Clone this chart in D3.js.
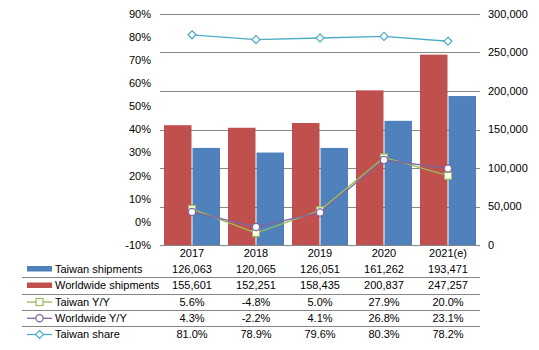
<!DOCTYPE html>
<html><head><meta charset="utf-8">
<script src="https://cdn.jsdelivr.net/npm/d3@7"></script>
<style>body{margin:0;background:#fff}svg{display:block}text{font-family:"Liberation Sans",Arial,sans-serif;font-size:11px;fill:#000}</style>
</head><body>
<script>
const categories = ["2017","2018","2019","2020","2021(e)"];
const taiwanShipments = [126063,120065,126051,161262,193471];
const worldwideShipments = [155601,152251,158435,200837,247257];
const taiwanYY = [5.6,-4.8,5.0,27.9,20.0];
const worldwideYY = [4.3,-2.2,4.1,26.8,23.1];
const taiwanShare = [81.0,78.9,79.6,80.3,78.2];
const leftTicks = [-10,0,10,20,30,40,50,60,70,80,90];
const rightTicks = [0,50000,100000,150000,200000,250000,300000];

const W=539,H=350;
const svg=d3.select("body").append("svg").attr("width",W).attr("height",H);
const x0=160,x1=480,yTop=14,yBot=245;
const x=d3.scaleBand().domain(categories).range([x0,x1]);
const yL=d3.scaleLinear().domain([-10,90]).range([yBot,yTop]);
const yR=d3.scaleLinear().domain([0,300000]).range([yBot,yTop]);
const blue="#4F81BD",red="#C0504D",green="#9BBB59",purple="#8064A2",cyan="#4BACC6";
const cx=c=>x(c)+x.bandwidth()/2;

// gridlines
svg.append("g").selectAll("line").data(rightTicks).join("line")
  .attr("x1",x0).attr("x2",x1).attr("y1",d=>Math.round(yR(d))+0.5).attr("y2",d=>Math.round(yR(d))+0.5)
  .attr("stroke","#868686").attr("stroke-width",1);

// axis labels
const gl=svg.append("g");
gl.selectAll("text").data(leftTicks).join("text")
  .attr("x",151).attr("y",d=>yL(d)).attr("dy","0.35em").attr("text-anchor","end").text(d=>d+"%");
const gr=svg.append("g");
gr.selectAll("text").data(rightTicks).join("text")
  .attr("x",488).attr("y",d=>yR(d)).attr("dy","0.35em").attr("text-anchor","start").text(d=>d3.format(",")(d));

// bars
const bw=27.5;
svg.append("g").selectAll("rect").data(categories).join("rect")
  .attr("x",c=>cx(c)-bw-0.5).attr("width",bw)
  .attr("y",(c,i)=>yR(worldwideShipments[i])).attr("height",(c,i)=>yBot-yR(worldwideShipments[i]))
  .attr("fill",red);
svg.append("g").selectAll("rect").data(categories).join("rect")
  .attr("x",c=>cx(c)+0.5).attr("width",bw)
  .attr("y",(c,i)=>yR(taiwanShipments[i])).attr("height",(c,i)=>yBot-yR(taiwanShipments[i]))
  .attr("fill",blue);

// bottom axis line
svg.append("line").attr("x1",x0).attr("x2",x1).attr("y1",yBot+0.5).attr("y2",yBot+0.5).attr("stroke","#868686");

function drawLine(vals,color,marker){
  const line=d3.line().x((d,i)=>cx(categories[i])).y(d=>yL(d));
  svg.append("path").attr("d",line(vals)).attr("fill","none").attr("stroke",color).attr("stroke-width",1.3);
  const g=svg.append("g");
  vals.forEach((v,i)=>{ drawMarker(g,cx(categories[i]),yL(v),color,marker); });
}
function drawMarker(g,px,py,color,marker){
  if(marker==="square") g.append("rect").attr("x",px-3.5).attr("y",py-3.5).attr("width",7).attr("height",7).attr("fill","#fff").attr("stroke",color).attr("stroke-width",1.2);
  else if(marker==="circle") g.append("circle").attr("cx",px).attr("cy",py).attr("r",3.6).attr("fill","#fff").attr("stroke",color).attr("stroke-width",1.2);
  else g.append("path").attr("d",`M${px},${py-4}L${px+4},${py}L${px},${py+4}L${px-4},${py}Z`).attr("fill","#fff").attr("stroke",color).attr("stroke-width",1.2);
}
drawLine(taiwanShare,cyan,"diamond");
drawLine(taiwanYY,green,"square");
drawLine(worldwideYY,purple,"circle");

// data table
svg.append("g").selectAll("text").data(categories).join("text")
  .attr("x",c=>cx(c)).attr("y",253).attr("dy","0.35em").attr("text-anchor","middle").text(d=>d);
const rows=[
  {name:"Taiwan shipments",vals:taiwanShipments.map(d3.format(",")),key:"rect",color:blue},
  {name:"Worldwide shipments",vals:worldwideShipments.map(d3.format(",")),key:"rect",color:red},
  {name:"Taiwan Y/Y",vals:taiwanYY.map(d=>d.toFixed(1)+"%"),key:"square",color:green},
  {name:"Worldwide Y/Y",vals:worldwideYY.map(d=>d.toFixed(1)+"%"),key:"circle",color:purple},
  {name:"Taiwan share",vals:taiwanShare.map(d=>d.toFixed(1)+"%"),key:"diamond",color:cyan}
];
const rowY=[269,285.5,302,318.3,334.5];
rows.forEach((r,i)=>{
  const yy=rowY[i];
  const g=svg.append("g");
  if(r.key==="rect") g.append("rect").attr("x",27).attr("y",yy-3).attr("width",25).attr("height",5.5).attr("fill",r.color);
  else {
    g.append("line").attr("x1",27).attr("x2",52).attr("y1",yy).attr("y2",yy).attr("stroke",r.color).attr("stroke-width",1.3);
    drawMarker(g,39.5,yy,r.color,r.key);
  }
  g.append("text").attr("x",55).attr("y",yy).attr("dy","0.35em").text(r.name);
  g.selectAll("text.v").data(r.vals).join("text").attr("class","v")
    .attr("x",(d,j)=>cx(categories[j])).attr("y",yy).attr("dy","0.35em").attr("text-anchor","middle").text(d=>d);
  if(i<rows.length-1){
    const ly=Math.round((rowY[i]+rowY[i+1])/2)+0.5;
    svg.append("line").attr("x1",22).attr("x2",x1).attr("y1",ly).attr("y2",ly).attr("stroke","#868686");
  }
});
</script>
</body></html>
